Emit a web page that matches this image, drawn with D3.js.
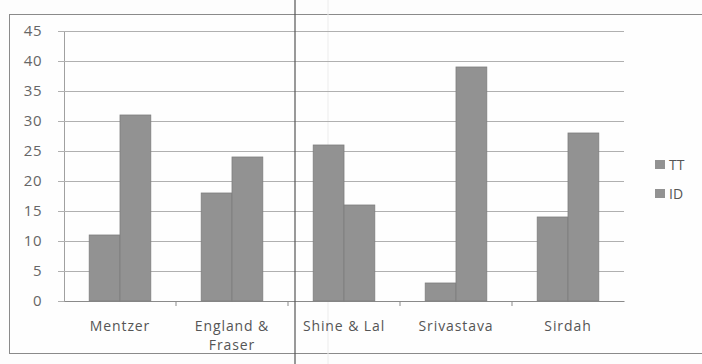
<!DOCTYPE html>
<html>
<head>
<meta charset="utf-8">
<script src="https://cdn.jsdelivr.net/npm/d3@7"></script>
<style>
  html, body { margin: 0; padding: 0; background: #fdfdfd; }
  svg { display: block; }
  text { font-family: "Open Sans", "Lato", sans-serif; }
</style>
</head>
<body>
<svg id="chart" width="702" height="364"></svg>
<script>
// Studies compared and their two measured series
const categories = ["Mentzer", "England & Fraser", "Shine & Lal", "Srivastava", "Sirdah"];
const categoryLines = [["Mentzer"], ["England &", "Fraser"], ["Shine & Lal"], ["Srivastava"], ["Sirdah"]];
const seriesNames = ["TT", "ID"];
const ttValues = [11, 18, 26, 3, 14];
const idValues = [31, 24, 16, 39, 28];
const yTicks = [0, 5, 10, 15, 20, 25, 30, 35, 40, 45];

const svg = d3.select("#chart");
const W = 702, H = 364;
const plot = { left: 64, right: 624, top: 31, bottom: 301 };

// outer chart frame
svg.append("rect")
  .attr("x", 9.5).attr("y", 14.5)
  .attr("width", W).attr("height", 339)
  .attr("fill", "#fefefe").attr("stroke", "#8a8a8a").attr("stroke-width", 1);

// faint fold line behind the plot
svg.append("line").attr("x1", 328).attr("x2", 328).attr("y1", 0).attr("y2", H)
  .attr("stroke", "#ececec").attr("stroke-width", 1);

const x0 = d3.scaleBand().domain(categories)
  .range([plot.left, plot.right]).paddingInner(0.45).paddingOuter(0.225);
const x1 = d3.scaleBand().domain(seriesNames).range([0, x0.bandwidth()]);
const y = d3.scaleLinear().domain([0, 45]).range([plot.bottom, plot.top]);

// horizontal gridlines with the value axis
const yAxis = d3.axisLeft(y).tickValues(yTicks)
  .tickSize(-(plot.right - plot.left)).tickSizeOuter(0).tickPadding(10);
const gy = svg.append("g").attr("transform", `translate(${plot.left},0)`).call(yAxis);
gy.select(".domain").attr("stroke", "#a0a0a0");
gy.selectAll(".tick line").attr("stroke", "#b0b0b0").attr("x1", -6);
gy.selectAll(".tick text").attr("fill", "#666").attr("font-size", 15)
  .attr("x", -22).style("letter-spacing", "0.5px");

// category axis
const xAxis = d3.axisBottom(x0).tickSize(0).tickFormat("");
const gx = svg.append("g").attr("transform", `translate(0,${plot.bottom})`).call(xAxis);
gx.select(".domain").attr("stroke", "#8a8a8a");
// tick marks between categories
const bounds = categories.slice(1).map(c => x0(c) - x0.step() * x0.paddingInner() / 2);
svg.append("g").selectAll("line").data(bounds).join("line")
  .attr("x1", d => d).attr("x2", d => d)
  .attr("y1", plot.bottom).attr("y2", plot.bottom + 5)
  .attr("stroke", "#8a8a8a");

// bars
const rows = categories.map((c, i) => ({ cat: c, vals: [ttValues[i], idValues[i]] }));
const groups = svg.append("g").selectAll("g").data(rows).join("g")
  .attr("transform", d => `translate(${x0(d.cat)},0)`);
groups.selectAll("rect").data(d => d.vals.map((v, j) => ({ key: seriesNames[j], v })))
  .join("rect")
  .attr("x", d => x1(d.key))
  .attr("y", d => y(d.v))
  .attr("width", x1.bandwidth())
  .attr("height", d => y(0) - y(d.v))
  .attr("fill", "#929292")
  .attr("stroke", "#7e7e7e").attr("stroke-width", 0.8);

// category labels, one text element per line
const labelRows = [];
categories.forEach((c, i) => categoryLines[i].forEach((t, k) => labelRows.push({ c, t, k })));
svg.append("g").selectAll("text").data(labelRows).join("text")
  .attr("x", d => x0(d.c) + x0.bandwidth() / 2)
  .attr("y", d => 331 + d.k * 19)
  .attr("text-anchor", "middle")
  .attr("fill", "#555")
  .attr("font-size", 14)
  .style("letter-spacing", "0.9px")
  .text(d => d.t);

// legend
const legend = svg.append("g").selectAll("g").data(seriesNames).join("g")
  .attr("transform", (d, i) => `translate(655,${160 + i * 29})`);
legend.append("rect").attr("width", 10).attr("height", 9).attr("fill", "#929292");
legend.append("text").attr("x", 14).attr("y", 10)
  .attr("fill", "#555").attr("font-size", 14).text(d => d);

// dark fold line across the sheet
svg.append("line").attr("x1", 295).attr("x2", 295).attr("y1", 0).attr("y2", H)
  .attr("stroke", "#555").attr("stroke-width", 1.2);
</script>
</body>
</html>
